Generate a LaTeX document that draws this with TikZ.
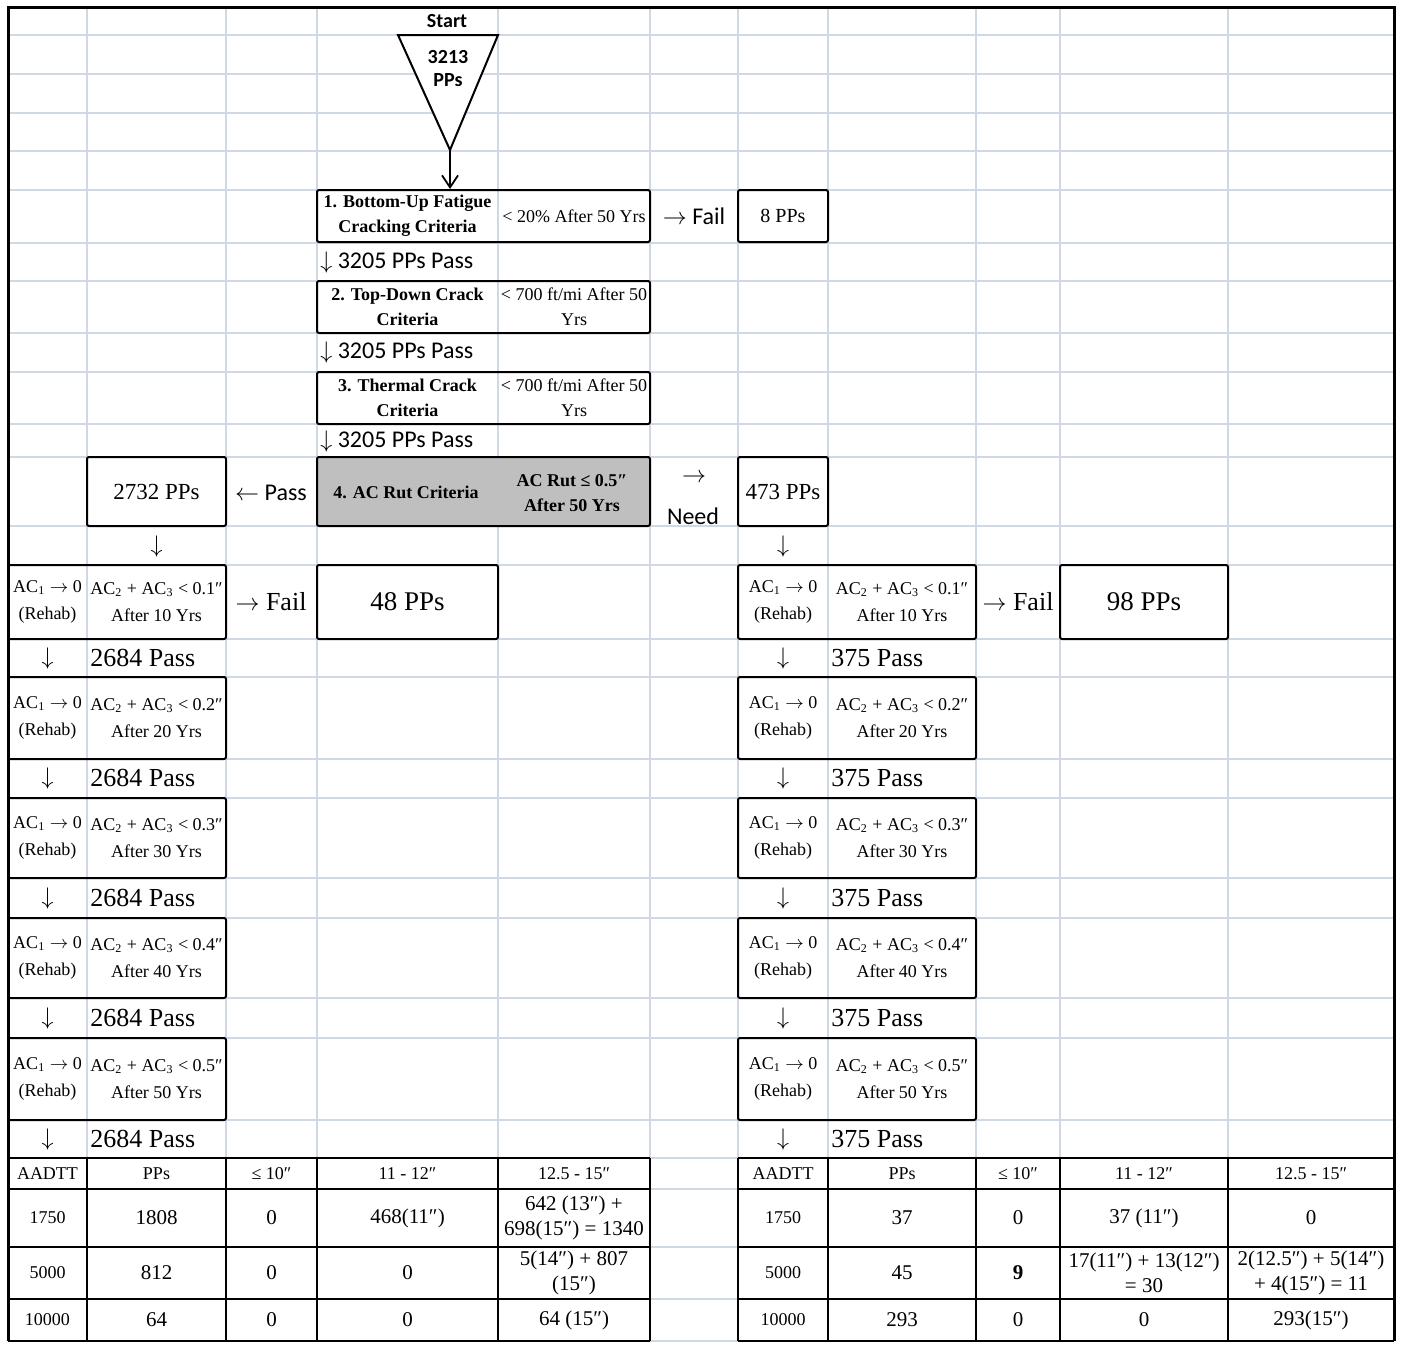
\documentclass[tikz,border=0pt]{standalone}
\usepackage{fontspec}
\setmainfont{Liberation Serif}
\newfontfamily\calib{Carlito}
\usepackage{tikz}
\usetikzlibrary{fit,arrows.meta}
\definecolor{sheetgrid}{RGB}{208,215,229}
\definecolor{rutgrey}{RGB}{191,191,191}

\begin{document}
\begin{tikzpicture}[
  x=0.5pt, y=-0.5pt,
  every node/.style={inner sep=0pt,align=center},
  gridln/.style={draw=sheetgrid,line width=0.7pt},
  tabln/.style={line width=0.8pt},
  box/.style={rectangle,draw,line width=1pt,rounded corners=1pt,inner sep=0pt},
  crittxt/.style={font=\fontsize{9}{12.5}\selectfont\bfseries},
  critval/.style={font=\fontsize{9}{12.5}\selectfont},
  flowtxt/.style={font=\calib\fontsize{12}{14}\selectfont},
  bigtxt/.style={font=\fontsize{13}{15}\selectfont},
  ppsnum/.style={font=\fontsize{11.5}{14}\selectfont},
  failnum/.style={font=\fontsize{13.5}{15}\selectfont},
  rehabtxt/.style={font=\fontsize{9}{13.5}\selectfont},
  tabhead/.style={font=\fontsize{9}{12}\selectfont},
  tabtxt/.style={font=\fontsize{10.5}{12.5}\selectfont},
  arr/.style={-{Straight Barb[length=6pt,width=8pt]},line width=0.9pt}
]
\useasboundingbox (0,0) rectangle (1401,1344);

% sheet grid and frame
\foreach \gx in {87,226,317,498,650,738,828,976,1060,1228}
  \draw[gridln] (\gx,7) -- (\gx,1341);
\foreach \gy in {35,74,113,151,190,243,281,333,372,424,457,526,565,639,677,759,798,878,918,998,1038,1120,1158,1189,1247,1299,1341}
  \draw[gridln] (8,\gy) -- (1394,\gy);
\draw[line width=1.5pt] (8,1341) -- (8,7) -- (1394,7) -- (1394,1341);

% start
\node[font=\calib\bfseries\fontsize{10}{12}\selectfont] (start) at (447,21) {Start};
\draw[fill=white,line width=1pt] (398,35) -- (498,35) -- (450,150) -- cycle;
\coordinate (apex) at (450,150);
\node[font=\calib\bfseries\fontsize{10}{11.5}\selectfont] (total) at (448,69) {3213\\PPs};

% criteria 1-3
\node[box,fit={(317,190) (650,242)}] (crit1) {};
\node[crittxt] (crit1name) at (407.5,216) {1. Bottom-Up Fatigue\\Cracking Criteria};
\node[critval] (crit1lim) at (574,216) {< 20\% After 50 Yrs};
\draw[arr] (apex) -- (apex |- crit1.north);
\node[flowtxt] (fail1) at (694,216) {$\rightarrow$ Fail};
\node[box,fit={(738,190) (828,242)}] (out1) {};
\node[font=\fontsize{10}{12}\selectfont] (out1txt) at (out1.center) {8 PPs};
\node[flowtxt,anchor=west] (pass1) at (320,262) {$\downarrow$ 3205 PPs Pass};

\node[box,fit={(317,281) (650,333)}] (crit2) {};
\node[crittxt] (crit2name) at (407.5,307) {2. Top-Down Crack\\Criteria};
\node[critval] (crit2lim) at (574,307) {< 700 ft/mi After 50\\Yrs};
\node[flowtxt,anchor=west] (pass2) at (320,352) {$\downarrow$ 3205 PPs Pass};

\node[box,fit={(317,372) (650,424)}] (crit3) {};
\node[crittxt] (crit3name) at (407.5,398) {3. Thermal Crack\\Criteria};
\node[critval] (crit3lim) at (574,398) {< 700 ft/mi After 50\\Yrs};
\node[flowtxt,anchor=west] (pass3) at (320,441) {$\downarrow$ 3205 PPs Pass};

% criterion 4
\node[box,fill=rutgrey,fit={(317,457) (650,526)}] (crit4) {};
\node[crittxt] (crit4name) at (406,492) {4. AC Rut Criteria};
\node[crittxt] (crit4lim) at (572,493) {AC Rut ≤ 0.5″\\After 50 Yrs};
\node[flowtxt] (passleft) at (271,493) {$\leftarrow$ Pass};
\node[box,fit={(87,457) (226,526)}] (rutpass) {};
\node[ppsnum] (rutpasstxt) at (rutpass.center) {2732 PPs};
\node[flowtxt] (needarr) at (694,478) {$\rightarrow$};
\node[flowtxt] (need) at (693,516) {Need};
\node[box,fit={(738,457) (828,526)}] (rutneed) {};
\node[ppsnum] (rutneedtxt) at (rutneed.center) {473 PPs};
\node[bigtxt] (downleft) at (156.5,546) {$\downarrow$};
\node[bigtxt] (downright) at (783,546) {$\downarrow$};

% rehab stages
\foreach \ya/\yb/\yp/\rut/\yrs [count=\k] in {565/639/658/0.1/10,677/759/778/0.2/20,798/878/898/0.3/30,918/998/1018/0.4/40,1038/1120/1139/0.5/50} {
  \node[box,fit={(8,\ya) (226,\yb)}] (lstage\k) {};
  \node[rehabtxt] (lrehab\k) at (47.5,{(\ya+\yb)/2}) {AC\textsubscript{1} $\rightarrow$ 0\\(Rehab)};
  \node[rehabtxt] (lcheck\k) at (156.5,{(\ya+\yb)/2}) {AC\textsubscript{2} + AC\textsubscript{3} < \rut″\\After \yrs\ Yrs};
  \node[bigtxt] (ldown\k) at (47.5,\yp) {$\downarrow$};
  \node[bigtxt,anchor=west] (lpass\k) at (90,\yp) {2684 Pass};
  \node[box,fit={(738,\ya) (976,\yb)}] (rstage\k) {};
  \node[rehabtxt] (rrehab\k) at (783,{(\ya+\yb)/2}) {AC\textsubscript{1} $\rightarrow$ 0\\(Rehab)};
  \node[rehabtxt] (rcheck\k) at (902,{(\ya+\yb)/2}) {AC\textsubscript{2} + AC\textsubscript{3} < \rut″\\After \yrs\ Yrs};
  \node[bigtxt] (rdown\k) at (783,\yp) {$\downarrow$};
  \node[bigtxt,anchor=west] (rpass\k) at (831,\yp) {375 Pass};
}
\node[bigtxt] (lfail) at (271,602) {$\rightarrow$ Fail};
\node[box,fit={(317,565) (498,639)}] (lout) {};
\node[failnum] (louttxt) at (lout.center) {48 PPs};
\node[bigtxt] (rfail) at (1018,602) {$\rightarrow$ Fail};
\node[box,fit={(1060,565) (1228,639)}] (rout) {};
\node[failnum] (routtxt) at (rout.center) {98 PPs};

% result tables
\foreach \tx in {8,87,226,317,498,650,738,828,976,1060,1228,1394}
  \draw[tabln] (\tx,1158) -- (\tx,1341);
\foreach \ty in {1158,1189,1247,1299,1341} {
  \draw[tabln] (8,\ty) -- (650,\ty);
  \draw[tabln] (738,\ty) -- (1394,\ty);
}
\foreach \cx/\txt [count=\i] in {47.5/AADTT,156.5/PPs,271.5/≤ 10″,407.5/11 - 12″,574/12.5 - 15″}
  \node[tabhead] (lhead\i) at (\cx,1173.5) {\txt};
\foreach \cx/\txt [count=\i] in {783/AADTT,902/PPs,1018/≤ 10″,1144/11 - 12″,1311/12.5 - 15″}
  \node[tabhead] (rhead\i) at (\cx,1173.5) {\txt};
\foreach \yr/\aadtt [count=\i] in {1218/1750,1273/5000,1320/10000} {
  \node[tabhead] (laadtt\i) at (47.5,\yr) {\aadtt};
  \node[tabhead] (raadtt\i) at (783,\yr) {\aadtt};
}
\foreach \cx/\txt [count=\i] in {156.5/1808,271.5/0,407.5/468(11″),574/{642 (13″) +\\698(15″) = 1340}}
  \node[tabtxt] (lrowa\i) at (\cx,1218) {\txt};
\foreach \cx/\txt [count=\i] in {156.5/812,271.5/0,407.5/0,574/{5(14″) + 807\\(15″)}}
  \node[tabtxt] (lrowb\i) at (\cx,1273) {\txt};
\foreach \cx/\txt [count=\i] in {156.5/64,271.5/0,407.5/0,574/64 (15″)}
  \node[tabtxt] (lrowc\i) at (\cx,1320) {\txt};
\foreach \cx/\txt [count=\i] in {902/37,1018/0,1144/37 (11″),1311/0}
  \node[tabtxt] (rrowa\i) at (\cx,1218) {\txt};
\foreach \cx/\txt [count=\i] in {902/45,1018/\textbf{9},1144/{17(11″) + 13(12″)\\= 30},1311/{2(12.5″) + 5(14″)\\+ 4(15″) = 11}}
  \node[tabtxt] (rrowb\i) at (\cx,1273) {\txt};
\foreach \cx/\txt [count=\i] in {902/293,1018/0,1144/0,1311/293(15″)}
  \node[tabtxt] (rrowc\i) at (\cx,1320) {\txt};
\end{tikzpicture}
\end{document}
